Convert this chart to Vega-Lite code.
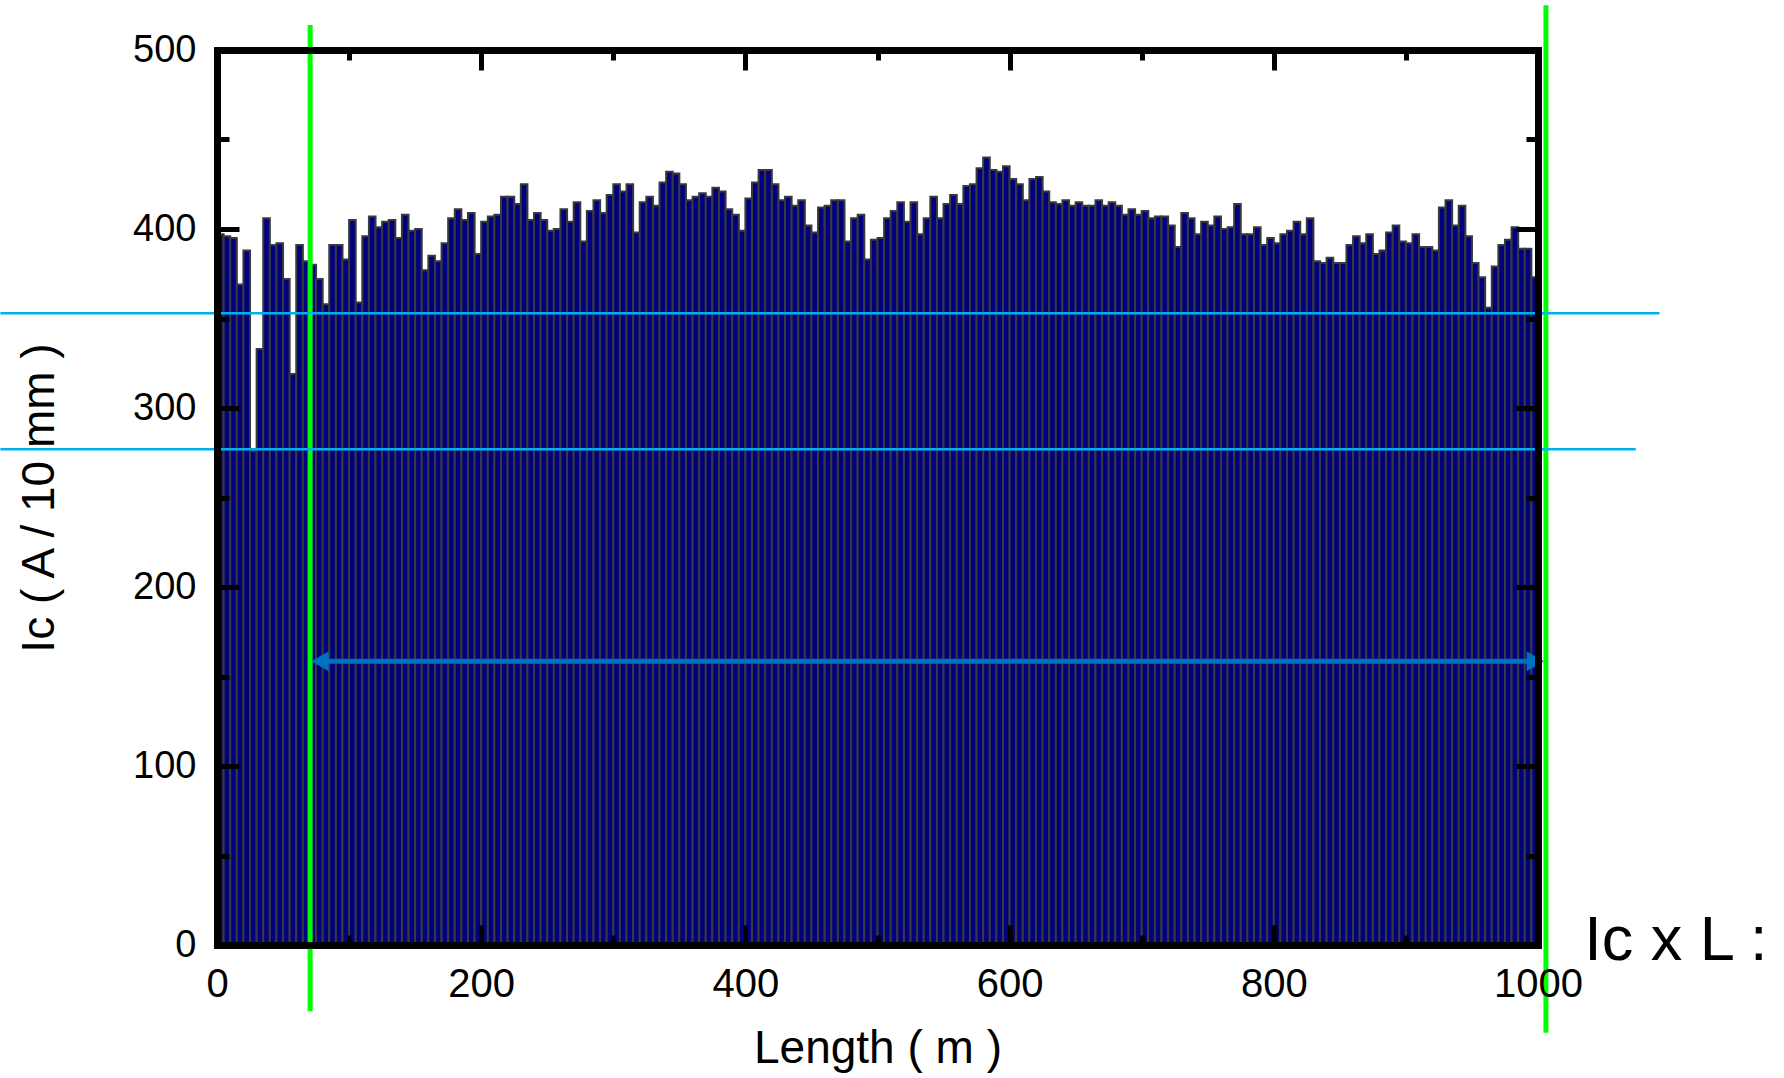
{
  "$schema": "https://vega.github.io/schema/vega-lite/v6.json",
  "width": 1321,
  "height": 895,
  "autosize": {"type": "none"},
  "padding": {"left": 217, "top": 50, "right": 246, "bottom": 133},
  "background": "white",
  "config": {"view": {"stroke": null}, "font": "Liberation Sans"},
  "resolve": {"axis": {"x": "independent", "y": "independent"}},
  "layer": [
    {
      "data": {"values": [
        {"s":0,"e":5,"ic":397},{"s":5,"e":10,"ic":396},{"s":10,"e":15,"ic":395},{"s":15,"e":20,"ic":369},{"s":20,"e":25,"ic":388},
        {"s":25,"e":30,"ic":276},{"s":30,"e":35,"ic":333},{"s":35,"e":40,"ic":406},{"s":40,"e":45,"ic":391},{"s":45,"e":50,"ic":392},
        {"s":50,"e":55,"ic":372},{"s":55,"e":60,"ic":319},{"s":60,"e":65,"ic":391},{"s":65,"e":70,"ic":382},{"s":70,"e":75,"ic":380},
        {"s":75,"e":80,"ic":372},{"s":80,"e":85,"ic":358},{"s":85,"e":90,"ic":391},{"s":90,"e":95,"ic":391},{"s":95,"e":100,"ic":383},
        {"s":100,"e":105,"ic":405},{"s":105,"e":110,"ic":359},{"s":110,"e":115,"ic":396},{"s":115,"e":120,"ic":407},{"s":120,"e":125,"ic":401},
        {"s":125,"e":130,"ic":404},{"s":130,"e":135,"ic":405},{"s":135,"e":140,"ic":395},{"s":140,"e":145,"ic":408},{"s":145,"e":150,"ic":399},
        {"s":150,"e":155,"ic":400},{"s":155,"e":160,"ic":377},{"s":160,"e":165,"ic":385},{"s":165,"e":170,"ic":382},{"s":170,"e":175,"ic":392},
        {"s":175,"e":180,"ic":406},{"s":180,"e":185,"ic":411},{"s":185,"e":190,"ic":405},{"s":190,"e":195,"ic":409},{"s":195,"e":200,"ic":386},
        {"s":200,"e":205,"ic":404},{"s":205,"e":210,"ic":407},{"s":210,"e":215,"ic":408},{"s":215,"e":220,"ic":418},{"s":220,"e":225,"ic":418},
        {"s":225,"e":230,"ic":414},{"s":230,"e":235,"ic":425},{"s":235,"e":240,"ic":405},{"s":240,"e":245,"ic":409},{"s":245,"e":250,"ic":405},
        {"s":250,"e":255,"ic":399},{"s":255,"e":260,"ic":400},{"s":260,"e":265,"ic":411},{"s":265,"e":270,"ic":404},{"s":270,"e":275,"ic":415},
        {"s":275,"e":280,"ic":393},{"s":280,"e":285,"ic":410},{"s":285,"e":290,"ic":416},{"s":290,"e":295,"ic":409},{"s":295,"e":300,"ic":419},
        {"s":300,"e":305,"ic":425},{"s":305,"e":310,"ic":421},{"s":310,"e":315,"ic":425},{"s":315,"e":320,"ic":398},{"s":320,"e":325,"ic":415},
        {"s":325,"e":330,"ic":418},{"s":330,"e":335,"ic":413},{"s":335,"e":340,"ic":426},{"s":340,"e":345,"ic":432},{"s":345,"e":350,"ic":431},
        {"s":350,"e":355,"ic":425},{"s":355,"e":360,"ic":416},{"s":360,"e":365,"ic":418},{"s":365,"e":370,"ic":420},{"s":370,"e":375,"ic":418},
        {"s":375,"e":380,"ic":423},{"s":380,"e":385,"ic":421},{"s":385,"e":390,"ic":411},{"s":390,"e":395,"ic":408},{"s":395,"e":400,"ic":399},
        {"s":400,"e":405,"ic":417},{"s":405,"e":410,"ic":426},{"s":410,"e":415,"ic":433},{"s":415,"e":420,"ic":433},{"s":420,"e":425,"ic":425},
        {"s":425,"e":430,"ic":416},{"s":430,"e":435,"ic":418},{"s":435,"e":440,"ic":413},{"s":440,"e":445,"ic":416},{"s":445,"e":450,"ic":402},
        {"s":450,"e":455,"ic":398},{"s":455,"e":460,"ic":412},{"s":460,"e":465,"ic":413},{"s":465,"e":470,"ic":416},{"s":470,"e":475,"ic":416},
        {"s":475,"e":480,"ic":393},{"s":480,"e":485,"ic":406},{"s":485,"e":490,"ic":408},{"s":490,"e":495,"ic":383},{"s":495,"e":500,"ic":394},
        {"s":500,"e":505,"ic":395},{"s":505,"e":510,"ic":406},{"s":510,"e":515,"ic":410},{"s":515,"e":520,"ic":415},{"s":520,"e":525,"ic":404},
        {"s":525,"e":530,"ic":415},{"s":530,"e":535,"ic":397},{"s":535,"e":540,"ic":406},{"s":540,"e":545,"ic":418},{"s":545,"e":550,"ic":406},
        {"s":550,"e":555,"ic":414},{"s":555,"e":560,"ic":419},{"s":560,"e":565,"ic":414},{"s":565,"e":570,"ic":424},{"s":570,"e":575,"ic":425},
        {"s":575,"e":580,"ic":434},{"s":580,"e":585,"ic":440},{"s":585,"e":590,"ic":433},{"s":590,"e":595,"ic":432},{"s":595,"e":600,"ic":435},
        {"s":600,"e":605,"ic":428},{"s":605,"e":610,"ic":425},{"s":610,"e":615,"ic":416},{"s":615,"e":620,"ic":428},{"s":620,"e":625,"ic":429},
        {"s":625,"e":630,"ic":421},{"s":630,"e":635,"ic":415},{"s":635,"e":640,"ic":414},{"s":640,"e":645,"ic":416},{"s":645,"e":650,"ic":413},
        {"s":650,"e":655,"ic":415},{"s":655,"e":660,"ic":413},{"s":660,"e":665,"ic":413},{"s":665,"e":670,"ic":416},{"s":670,"e":675,"ic":413},
        {"s":675,"e":680,"ic":415},{"s":680,"e":685,"ic":413},{"s":685,"e":690,"ic":408},{"s":690,"e":695,"ic":411},{"s":695,"e":700,"ic":408},
        {"s":700,"e":705,"ic":410},{"s":705,"e":710,"ic":406},{"s":710,"e":715,"ic":407},{"s":715,"e":720,"ic":407},{"s":720,"e":725,"ic":402},
        {"s":725,"e":730,"ic":390},{"s":730,"e":735,"ic":409},{"s":735,"e":740,"ic":406},{"s":740,"e":745,"ic":397},{"s":745,"e":750,"ic":404},
        {"s":750,"e":755,"ic":402},{"s":755,"e":760,"ic":407},{"s":760,"e":765,"ic":400},{"s":765,"e":770,"ic":401},{"s":770,"e":775,"ic":414},
        {"s":775,"e":780,"ic":397},{"s":780,"e":785,"ic":397},{"s":785,"e":790,"ic":401},{"s":790,"e":795,"ic":391},{"s":795,"e":800,"ic":395},
        {"s":800,"e":805,"ic":392},{"s":805,"e":810,"ic":397},{"s":810,"e":815,"ic":399},{"s":815,"e":820,"ic":404},{"s":820,"e":825,"ic":397},
        {"s":825,"e":830,"ic":406},{"s":830,"e":835,"ic":382},{"s":835,"e":840,"ic":381},{"s":840,"e":845,"ic":384},{"s":845,"e":850,"ic":381},
        {"s":850,"e":855,"ic":381},{"s":855,"e":860,"ic":391},{"s":860,"e":865,"ic":396},{"s":865,"e":870,"ic":392},{"s":870,"e":875,"ic":397},
        {"s":875,"e":880,"ic":386},{"s":880,"e":885,"ic":388},{"s":885,"e":890,"ic":398},{"s":890,"e":895,"ic":402},{"s":895,"e":900,"ic":393},
        {"s":900,"e":905,"ic":392},{"s":905,"e":910,"ic":397},{"s":910,"e":915,"ic":390},{"s":915,"e":920,"ic":390},{"s":920,"e":925,"ic":388},
        {"s":925,"e":930,"ic":412},{"s":930,"e":935,"ic":416},{"s":935,"e":940,"ic":402},{"s":940,"e":945,"ic":413},{"s":945,"e":950,"ic":396},
        {"s":950,"e":955,"ic":381},{"s":955,"e":960,"ic":373},{"s":960,"e":965,"ic":356},{"s":965,"e":970,"ic":379},{"s":970,"e":975,"ic":391},
        {"s":975,"e":980,"ic":394},{"s":980,"e":985,"ic":401},{"s":985,"e":990,"ic":389},{"s":990,"e":995,"ic":389},{"s":995,"e":1000,"ic":373}
      ]},
      "mark": {"type": "bar", "fill": "#000080", "stroke": "#3a3a3a", "strokeWidth": 2},
      "encoding": {
        "x": {
          "field": "s", "type": "quantitative",
          "scale": {"domain": [0, 1000], "nice": false, "zero": false},
          "axis": {
            "orient": "bottom",
            "values": [0,100,200,300,400,500,600,700,800,900,1000],
            "format": "d",
            "labelExpr": "datum.value % 200 === 0 ? datum.label : ''",
            "labelFlush": false, "labelOverlap": false, "labelBound": false,
            "labelFont": "Liberation Sans", "labelFontSize": 40, "labelColor": "black", "labelPadding": 39,
            "tickSize": {"condition": {"test": "datum.value % 200 === 0", "value": -20}, "value": -10},
            "tickWidth": 5, "tickColor": "black",
            "domainColor": "black", "domainWidth": 7, "domainCap": "square",
            "grid": false, "zindex": 1,
            "title": "Length ( m )", "titleFont": "Liberation Sans", "titleFontSize": 46, "titleFontWeight": "normal", "titleColor": "black", "titlePadding": 12
          }
        },
        "x2": {"field": "e"},
        "y": {
          "field": "ic", "type": "quantitative",
          "scale": {"domain": [0, 500], "nice": false},
          "axis": {
            "orient": "left",
            "values": [0,50,100,150,200,250,300,350,400,450,500],
            "format": "d",
            "labelExpr": "datum.value % 100 === 0 ? datum.label : ''",
            "labelFlush": false, "labelOverlap": false, "labelBound": false,
            "labelFont": "Liberation Sans", "labelFontSize": 38, "labelColor": "black", "labelPadding": 43,
            "tickSize": {"condition": {"test": "datum.value % 100 === 0", "value": -22}, "value": -12},
            "tickWidth": 5, "tickColor": "black",
            "domainColor": "black", "domainWidth": 7, "domainCap": "square",
            "grid": false, "zindex": 1,
            "title": "Ic ( A / 10 mm )", "titleFont": "Liberation Sans", "titleFontSize": 46, "titleFontWeight": "normal", "titleColor": "black", "titlePadding": 69
          }
        },
        "y2": {"datum": 0}
      }
    },
    {
      "data": {"values": [
        {"line": "x", "pos": 70.5, "lo": -37, "hi": 514},
        {"line": "x", "pos": 1006, "lo": -49, "hi": 525}
      ]},
      "mark": {"type": "rule", "color": "#00FF00", "strokeWidth": 5},
      "encoding": {
        "x": {"field": "pos", "type": "quantitative", "scale": {"domain": [0, 1000], "nice": false, "zero": false}, "axis": null},
        "y": {"field": "lo", "type": "quantitative", "scale": {"domain": [0, 500], "nice": false}, "axis": null},
        "y2": {"field": "hi"}
      }
    },
    {
      "data": {"values": [
        {"lvl": 353, "a": -164, "b": 1092},
        {"lvl": 277, "a": -164, "b": 1074}
      ]},
      "mark": {"type": "rule", "color": "#00B0F0", "strokeWidth": 2.5},
      "encoding": {
        "x": {
          "field": "a", "type": "quantitative",
          "scale": {"domain": [0, 1000], "nice": false, "zero": false},
          "axis": {
            "orient": "top",
            "values": [0,100,200,300,400,500,600,700,800,900,1000],
            "labels": false, "title": null,
            "tickSize": {"condition": {"test": "datum.value % 200 === 0", "value": -20}, "value": -10},
            "tickWidth": 5, "tickColor": "black",
            "domainColor": "black", "domainWidth": 7, "domainCap": "square",
            "grid": false, "zindex": 1
          }
        },
        "x2": {"field": "b"},
        "y": {
          "field": "lvl", "type": "quantitative",
          "scale": {"domain": [0, 500], "nice": false},
          "axis": {
            "orient": "right",
            "values": [0,50,100,150,200,250,300,350,400,450,500],
            "labels": false, "title": null,
            "tickSize": {"condition": {"test": "datum.value % 100 === 0", "value": -22}, "value": -12},
            "tickWidth": 5, "tickColor": "black",
            "domainColor": "black", "domainWidth": 7, "domainCap": "square",
            "grid": false, "zindex": 1
          }
        }
      }
    },
    {
      "data": {"values": [{"a": 78, "b": 998, "v": 158.5}]},
      "mark": {"type": "rule", "color": "#0070C0", "strokeWidth": 5},
      "encoding": {
        "x": {"field": "a", "type": "quantitative", "scale": {"domain": [0, 1000], "nice": false, "zero": false}, "axis": null},
        "x2": {"field": "b"},
        "y": {"field": "v", "type": "quantitative", "scale": {"domain": [0, 500], "nice": false}, "axis": null}
      }
    },
    {
      "data": {"values": [{"p": 78, "v": 158.5, "d": "L"}, {"p": 998, "v": 158.5, "d": "R"}]},
      "mark": {"type": "point", "filled": true, "color": "#0070C0", "opacity": 1, "size": 400},
      "encoding": {
        "x": {"field": "p", "type": "quantitative", "scale": {"domain": [0, 1000], "nice": false, "zero": false}, "axis": null},
        "y": {"field": "v", "type": "quantitative", "scale": {"domain": [0, 500], "nice": false}, "axis": null},
        "shape": {"field": "d", "type": "nominal", "scale": {"domain": ["L", "R"], "range": ["triangle-left", "triangle-right"]}, "legend": null}
      }
    },
    {
      "data": {"values": [{"t": "Ic x L :", "x": 1035, "y": -8.4}]},
      "mark": {"type": "text", "align": "left", "baseline": "alphabetic", "font": "Liberation Sans", "fontSize": 63, "color": "black"},
      "encoding": {
        "x": {"field": "x", "type": "quantitative", "scale": {"domain": [0, 1000], "nice": false, "zero": false}, "axis": null},
        "y": {"field": "y", "type": "quantitative", "scale": {"domain": [0, 500], "nice": false}, "axis": null},
        "text": {"field": "t"}
      }
    }
  ]
}
